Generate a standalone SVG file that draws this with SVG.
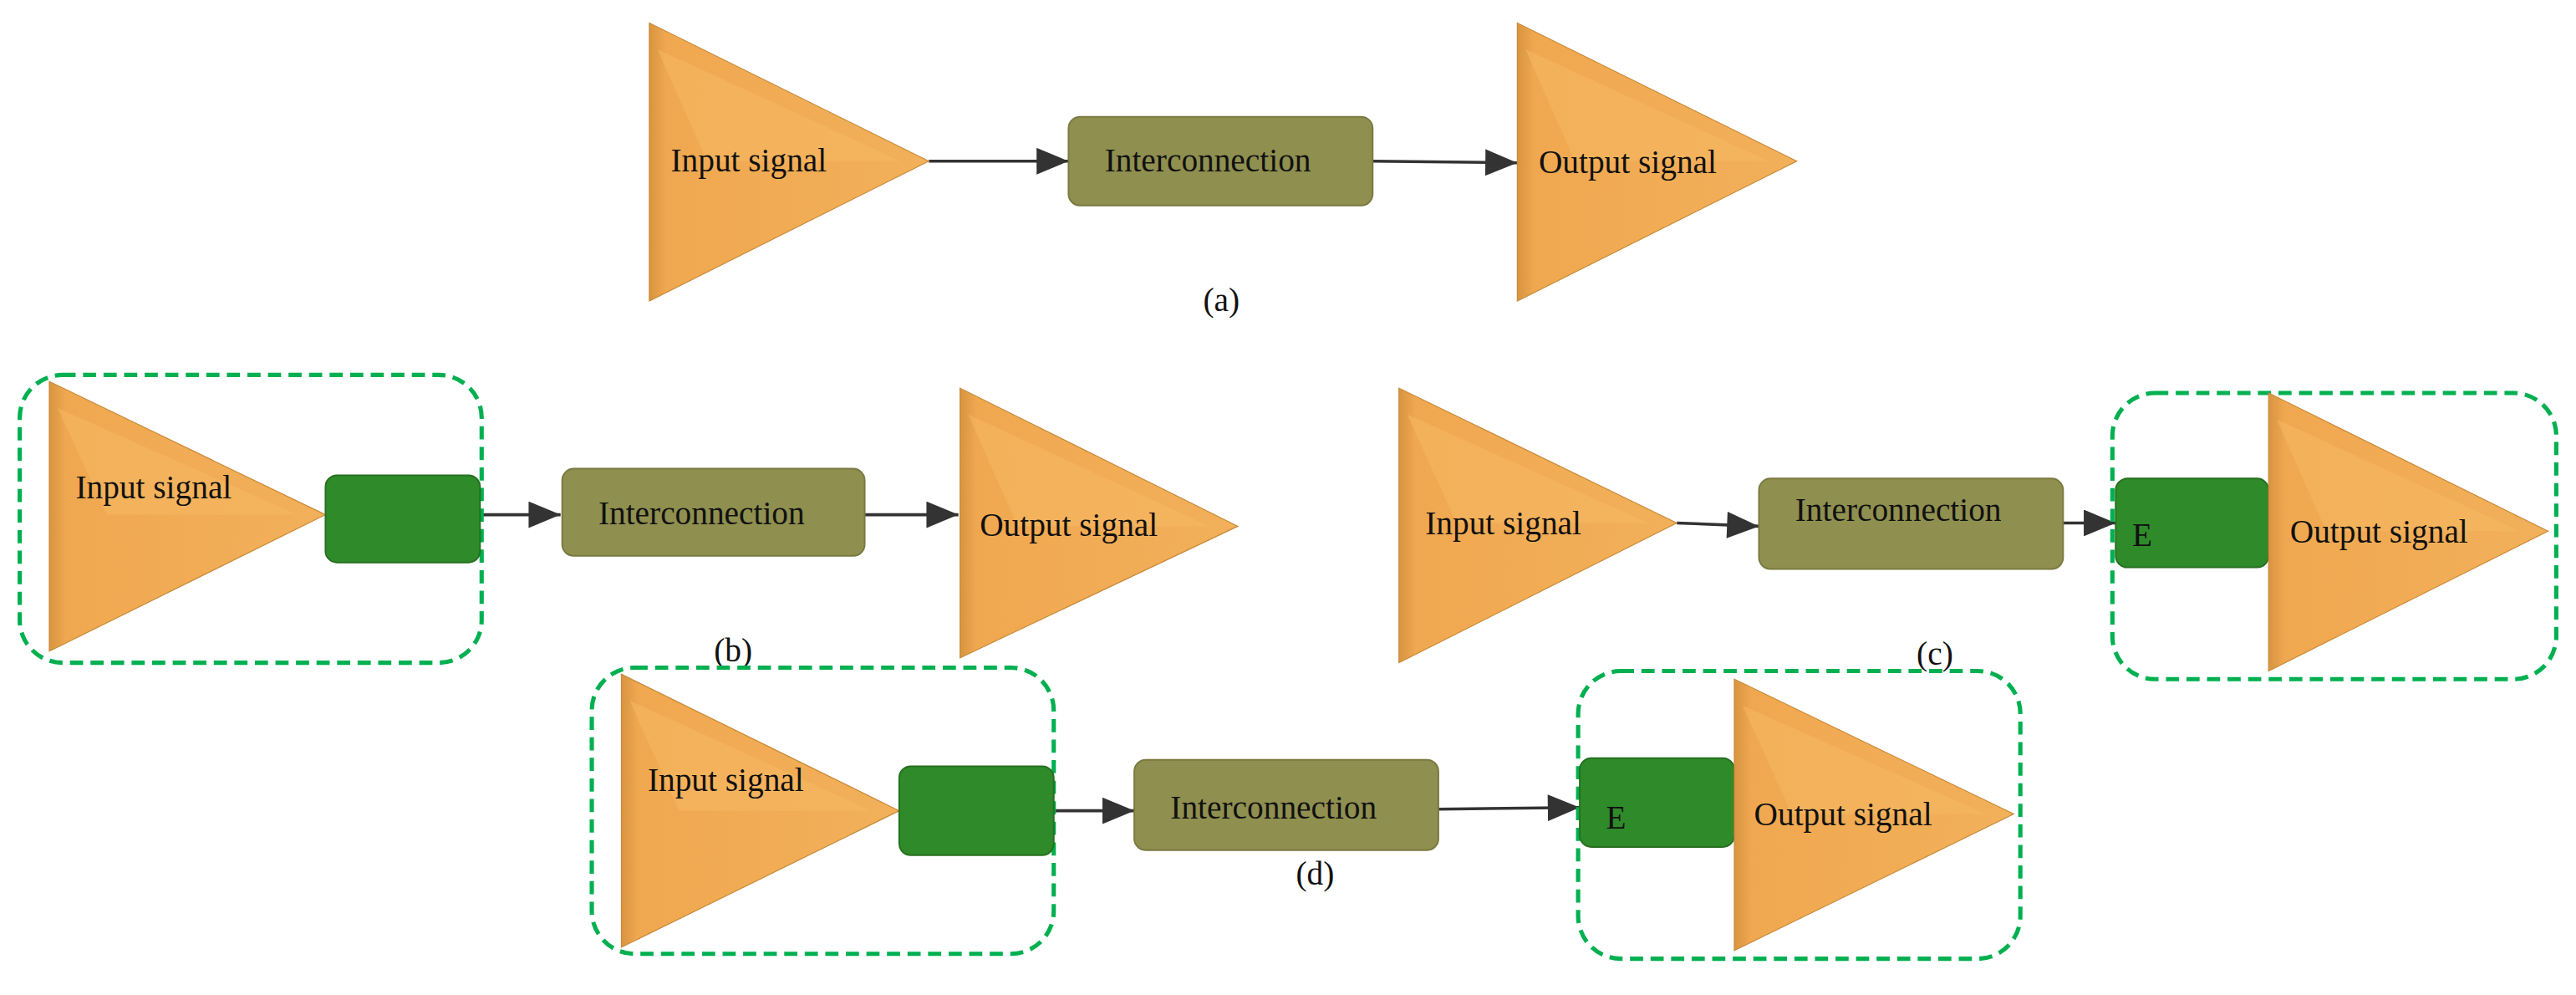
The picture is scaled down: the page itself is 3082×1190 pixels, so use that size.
<svg xmlns="http://www.w3.org/2000/svg" width="3082" height="1190" viewBox="0 0 3082 1190">
<style>
.tri{fill:url(#og);stroke:#c98a3a;stroke-width:0.6}
.fac{fill:#f6b862;opacity:0.55}
.ic{fill:#8f8f4f;stroke:#7a7a40;stroke-width:1}
.gb{fill:#2f8a2a;stroke:#26701f;stroke-width:1}
.dash{fill:none;stroke:#00b050;stroke-width:2.6;stroke-dasharray:8 4.5}
.t{font-family:"Liberation Serif",serif;font-size:20px;fill:#111}
.c{stroke:#333;stroke-width:1.8;fill:none;marker-end:url(#ah)}
</style>
<defs>
<linearGradient id="og" x1="0" y1="0" x2="1" y2="0">
<stop offset="0" stop-color="#d89440"/><stop offset="0.06" stop-color="#f0a850"/><stop offset="1" stop-color="#f2b05a"/>
</linearGradient>
<marker id="ah" viewBox="0 0 12 10" refX="12" refY="5" markerWidth="11" markerHeight="9" orient="auto"><path d="M0,0 L12,5 L0,10 z" fill="#333"/></marker>
</defs>
<rect width="3082" height="1190" fill="#fff"/>
<g transform="scale(1.9668)">
<g id="connectors">
<line class="c" x1="565" y1="98" x2="650" y2="98"/>
<line class="c" x1="835" y1="98" x2="923" y2="99"/>
<line class="c" x1="292" y1="313" x2="341" y2="313"/>
<line class="c" x1="526" y1="313" x2="583" y2="313"/>
<line class="c" x1="1020" y1="318" x2="1070" y2="320"/>
<line class="c" x1="1255" y1="318" x2="1287" y2="318"/>
<line class="c" x1="641" y1="493" x2="690" y2="493"/>
<line class="c" x1="875" y1="492" x2="961" y2="491"/>
</g>
<g id="a-input"><polygon class="tri" points="395,14 565,98 395,183"/><polygon class="fac" points="400,30 548,98 430,98"/><text class="t" x="408" y="104">Input signal</text></g>
<g id="a-inter"><rect class="ic" x="650" y="71" width="185" height="54" rx="7"/><text class="t" x="672" y="104">Interconnection</text></g>
<g id="a-output"><polygon class="tri" points="923,14 1093,98 923,183"/><polygon class="fac" points="928,30 1076,98 958,98"/><text class="t" x="936" y="105">Output signal</text></g>
<text class="t" x="743" y="189" text-anchor="middle">(a)</text>

<g id="b-box"><rect class="dash" x="12" y="228" width="281" height="175" rx="26"/></g>
<g id="b-input"><polygon class="tri" points="30,232 198,313 30,396"/><polygon class="fac" points="35,248 181,313 65,313"/><text class="t" x="46" y="303">Input signal</text></g>
<g id="b-green"><rect class="gb" x="198" y="289" width="94" height="53" rx="7"/></g>
<g id="b-inter"><rect class="ic" x="342" y="285" width="184" height="53" rx="7"/><text class="t" x="364" y="319">Interconnection</text></g>
<g id="b-output"><polygon class="tri" points="584,236 753,320 584,400"/><polygon class="fac" points="589,252 736,320 619,320"/><text class="t" x="596" y="326">Output signal</text></g>
<text class="t" x="446" y="402" text-anchor="middle">(b)</text>

<g id="c-input"><polygon class="tri" points="851,236 1020,318 851,403"/><polygon class="fac" points="856,252 1003,318 886,318"/><text class="t" x="867" y="325">Input signal</text></g>
<g id="c-inter"><rect class="ic" x="1070" y="291" width="185" height="55" rx="7"/><text class="t" x="1092" y="317">Interconnection</text></g>
<g id="c-box"><rect class="dash" x="1285" y="239" width="270" height="174" rx="26"/></g>
<g id="c-green"><rect class="gb" x="1287" y="291" width="93" height="54" rx="7"/><text class="t" x="1297" y="332">E</text></g>
<g id="c-output"><polygon class="tri" points="1380,239 1550,323 1380,408"/><polygon class="fac" points="1385,255 1533,323 1415,323"/><text class="t" x="1393" y="330">Output signal</text></g>
<text class="t" x="1177" y="404" text-anchor="middle">(c)</text>

<g id="d-box-left"><rect class="dash" x="360" y="406" width="281" height="174" rx="26"/></g>
<g id="d-input"><polygon class="tri" points="378,410 547,493 378,576"/><polygon class="fac" points="383,426 530,493 413,493"/><text class="t" x="394" y="481">Input signal</text></g>
<g id="d-green"><rect class="gb" x="547" y="466" width="94" height="54" rx="7"/></g>
<g id="d-inter"><rect class="ic" x="690" y="462" width="185" height="55" rx="7"/><text class="t" x="712" y="498">Interconnection</text></g>
<g id="d-box-right"><rect class="dash" x="960" y="408" width="269" height="175" rx="26"/></g>
<g id="d-green-e"><rect class="gb" x="961" y="461" width="94" height="54" rx="7"/><text class="t" x="977" y="504">E</text></g>
<g id="d-output"><polygon class="tri" points="1055,413 1225,495 1055,578"/><polygon class="fac" points="1060,429 1208,495 1090,495"/><text class="t" x="1067" y="502">Output signal</text></g>
<text class="t" x="800" y="538" text-anchor="middle">(d)</text>
</g>
</svg>
